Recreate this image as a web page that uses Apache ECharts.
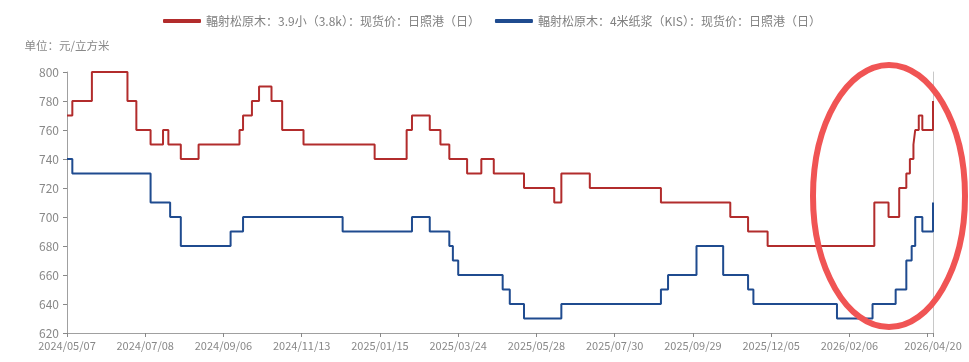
<!DOCTYPE html>
<html>
<head>
<meta charset="utf-8">
<script src="https://cdn.jsdelivr.net/npm/echarts@6/dist/echarts.min.js"></script>
<style>html,body{margin:0;padding:0;background:#fff;}#c{width:969px;height:362px;}</style>
</head>
<body>
<div id="c"></div>
<script>
// ---- data ----
var seriesNames = ['輻射松原木：3.9小（3.8k）：现货价：日照港（日）', '輻射松原木：4米纸浆（KIS）：现货价：日照港（日）'];
var tickLabels = ['2024/05/07','2024/07/08','2024/09/06','2024/11/13','2025/01/15','2025/03/24','2025/05/28','2025/07/30','2025/09/29','2025/12/05','2026/02/06','2026/04/20'];
var lastDay = 487;           // index of the last trading day (2026/04/20)
var labelStep = 44;          // trading days between tick labels
// change points: day index where the price changes, and the new price
var redDays   = [0,3,14,34,39,47,54,57,64,74,97,99,104,108,115,121,133,173,191,194,204,210,215,225,233,240,257,274,278,294,334,373,383,394,454,462,468,472,474,476,477,479,481,487];
var redValues = [770,780,800,780,760,750,760,750,740,750,760,770,780,790,780,760,750,740,760,770,760,750,740,730,740,730,720,710,730,720,710,700,690,680,710,700,720,730,740,750,760,770,760,780];
var blueDays   = [0,3,47,58,64,92,99,155,194,204,215,217,220,245,249,257,278,334,338,354,369,383,386,433,453,466,472,475,477,481,487];
var blueValues = [740,730,710,700,680,690,700,690,700,690,680,670,660,650,640,630,640,650,660,680,660,650,640,630,640,650,670,680,700,690,710];

function pairs(days, vals){ var out=[]; for(var i=0;i<days.length;i++){ out.push([days[i], vals[i]]); } return out; }

var chart = echarts.init(document.getElementById('c'), null, {renderer:'canvas'});
var axisColor = '#a0a0a0';
var labelColor = '#808080';
var font = '"Noto Sans CJK SC", "Noto Sans", sans-serif';
chart.setOption({
  animation: false,
  backgroundColor: '#fff',
  textStyle: {fontFamily: font},
  legend: {
    left: 158, top: 10,
    itemWidth: 38, itemHeight: 4, itemGap: 15,
    icon: 'roundRect',
    textStyle: {color: labelColor, fontSize: 12, fontFamily: font},
    data: seriesNames
  },
  grid: {left: 67, right: 36, top: 72, bottom: 29, containLabel: false},
  xAxis: {
    type: 'value', min: 0, max: lastDay, interval: labelStep,
    axisLine: {show: true, lineStyle: {color: axisColor}},
    axisTick: {show: true, length: 4, lineStyle: {color: '#888'}},
    splitLine: {show: false},
    axisLabel: {
      color: '#888', fontSize: 11, margin: 7, showMaxLabel: true, showMinLabel: true,
      formatter: function(v){
        if (v === lastDay) return tickLabels[tickLabels.length-1];
        var k = v / labelStep;
        if (Math.abs(k - Math.round(k)) < 1e-6 && Math.round(k) < tickLabels.length-1) return tickLabels[Math.round(k)];
        return '';
      }
    }
  },
  yAxis: [{
    type: 'value', min: 620, max: 800, interval: 20,
    name: '单位：元/立方米', nameLocation: 'end', nameGap: 21,
    nameTextStyle: {color: '#888', fontSize: 11.5, fontFamily: font},
    axisLine: {show: true, lineStyle: {color: axisColor}},
    axisTick: {show: true, length: 4, lineStyle: {color: '#888'}},
    splitLine: {show: false},
    axisLabel: {color: '#888', fontSize: 12, margin: 8}
  },{
    type: 'value', min: 620, max: 800, position: 'right',
    axisLine: {show: true, lineStyle: {color: '#c8c8c8'}},
    axisTick: {show: false}, axisLabel: {show: false}, splitLine: {show: false}
  }],
  series: [{
    name: seriesNames[0], type: 'line', step: 'end', showSymbol: false,
    data: pairs(redDays, redValues),
    lineStyle: {color: '#B22C2C', width: 2}, itemStyle: {color: '#B22C2C'}
  },{
    name: seriesNames[1], type: 'line', step: 'end', showSymbol: false,
    data: pairs(blueDays, blueValues),
    lineStyle: {color: '#1F4B8F', width: 2}, itemStyle: {color: '#1F4B8F'}
  }],
  graphic: [{
    type: 'ellipse', z: 100,
    shape: {cx: 889, cy: 196, rx: 76, ry: 131},
    style: {fill: 'none', stroke: '#F05454', lineWidth: 6}
  }]
});
</script>
</body>
</html>
